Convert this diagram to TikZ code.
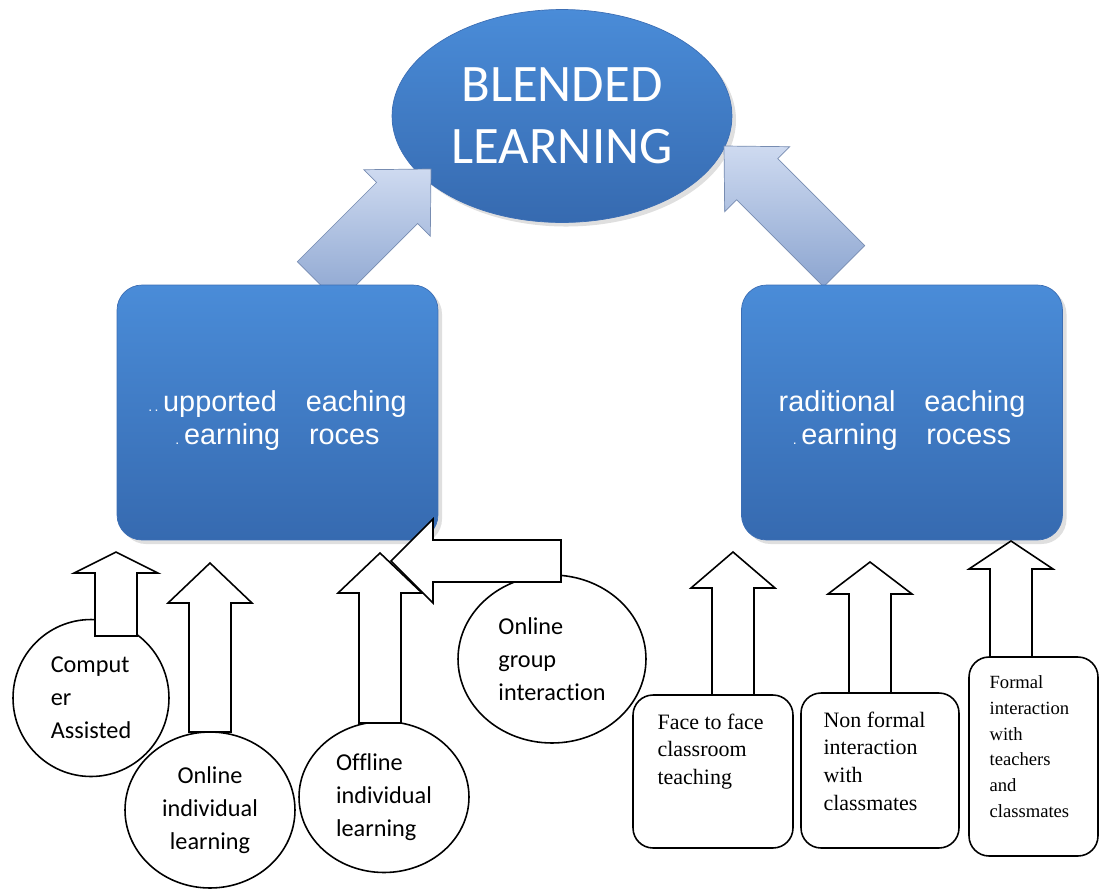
\documentclass[tikz,border=0pt]{standalone}
\usepackage{fontspec}
\setmainfont{Liberation Serif}
\newfontfamily\calibrifont[Ligatures=NoCommon]{Carlito}
\newfontfamily\arialfont{Liberation Sans}
\usetikzlibrary{shapes.geometric,shadows,positioning}
\definecolor{bltop}{RGB}{74,140,216}
\definecolor{blbot}{RGB}{54,106,176}
\definecolor{blline}{RGB}{60,110,180}
\definecolor{arlight}{RGB}{206,218,240}
\definecolor{ardark}{RGB}{140,165,208}
\begin{document}
\begin{tikzpicture}[x=0.02cm, y=-0.02cm,
    bigblue/.style={ellipse, draw=blline, top color=bltop, bottom color=blbot, text=white, align=center,
        font=\calibrifont\fontsize{30}{35}\selectfont, inner sep=0pt,
        minimum width=6.8cm, minimum height=4.26cm, drop shadow={opacity=0.25}},
    bluebox/.style={rectangle, rounded corners=0.5cm, draw=blline, top color=bltop, bottom color=blbot,
        text=white, align=center, font=\arialfont\fontsize{16.4}{18.3}\selectfont,
        minimum width=6.42cm, minimum height=5.1cm, drop shadow={opacity=0.25}},
    bubble/.style={ellipse, draw, fill=white, line width=0.9pt, inner sep=0pt,
        font=\calibrifont\fontsize{13.8}{18.7}\selectfont},
    notebox/.style={rectangle, rounded corners=0.4cm, draw, fill=white, line width=0.9pt},
    notetext/.style={anchor=north west, inner sep=0pt, align=left, font=\fontsize{12.5}{15.9}\selectfont},
    hollow/.style={draw, fill=white, line width=0.9pt, line join=miter},
    bigarrow/.style={top color=arlight, bottom color=ardark, draw=ardark!85!black, line width=0.4pt}]
    \useasboundingbox (0,0) rectangle (1099,890);

    % top
    \node [bigblue] (blend) at (562,116) {BLENDED\\LEARNING};

    % shaded arrows into the ellipse
    \begin{scope}[shift={(431,169)}, rotate=45]
        \shade [bigarrow] (-160,-29) -- (-48,-29) -- (-48,-47) -- (0,0) -- (-48,47) -- (-48,29) -- (-160,29) -- cycle;
    \end{scope}
    \begin{scope}[shift={(724,146)}, rotate=135]
        \shade [bigarrow] (-170,-29) -- (-47,-29) -- (-47,-46) -- (0,0) -- (-47,46) -- (-47,29) -- (-170,29) -- cycle;
    \end{scope}

    % the two processes
    \node [bluebox] (online) at (277.5,412.5)
        {\rule{0pt}{21pt}{\fontsize{8}{8}\selectfont.\,.}\,upported\quad eaching\\{\fontsize{8}{8}\selectfont.}\,earning\quad roces};
    \node [bluebox] (trad) at (902,412.5)
        {\rule{0pt}{21pt}raditional\quad eaching\\{\fontsize{8}{8}\selectfont.}\,earning\quad rocess};

    % left side
    \node [bubble, align=left, minimum width=3.12cm, minimum height=3.14cm] (cal) at (91,698) {Comput\\er\\Assisted};
    \node [bubble, align=center, minimum width=3.4cm, minimum height=3.12cm] (oil) at (210,810) {Online\\individual\\learning};
    \node [bubble, align=left, minimum width=3.4cm, minimum height=3.02cm] (ofl) at (384,797) {Offline\\individual\\learning};
    \node [bubble, align=left, minimum width=3.76cm, minimum height=3.36cm] (ogi) at (552,659) {Online\\group\\interaction};

    % right side
    \node [notebox, minimum width=3.2cm, minimum height=3.06cm] (ftf) at (713,771.5) {};
    \node [notetext] (ftftext) at ([shift={(25,19)}]ftf.north west) {Face to face\\classroom\\teaching};
    \node [notebox, minimum width=3.16cm, minimum height=3.1cm] (nfi) at (880,770.5) {};
    \node [notetext] (nfitext) at ([shift={(23,19)}]nfi.north west) {Non formal\\interaction\\with\\classmates};
    \node [notebox, minimum width=2.58cm, minimum height=3.98cm] (fi) at (1033.5,756.5) {};
    \node [notetext, font=\fontsize{10.6}{14.7}\selectfont] (fitext) at ([shift={(21,19)}]fi.north west)
        {Formal\\interaction\\with\\teachers\\and\\classmates};

    % hollow arrows up
    \foreach \ax/\ab/\ah/\at in {116/636/573/552, 210/732/603/563, 380/723/593/553,
                                733/695/588/552, 870/693/594/562, 1011/657/569/541}
        \draw [hollow] ({\ax-21},\ab) -- ({\ax-21},\ah) -- ({\ax-42},\ah) -- (\ax,\at)
            -- ({\ax+42},\ah) -- ({\ax+21},\ah) -- ({\ax+21},\ab) -- cycle;
    \draw [hollow] (561,540) -- (433,540) -- (433,519) -- (391,561) -- (433,603) -- (433,582) -- (561,582) -- cycle;
\end{tikzpicture}
\end{document}
